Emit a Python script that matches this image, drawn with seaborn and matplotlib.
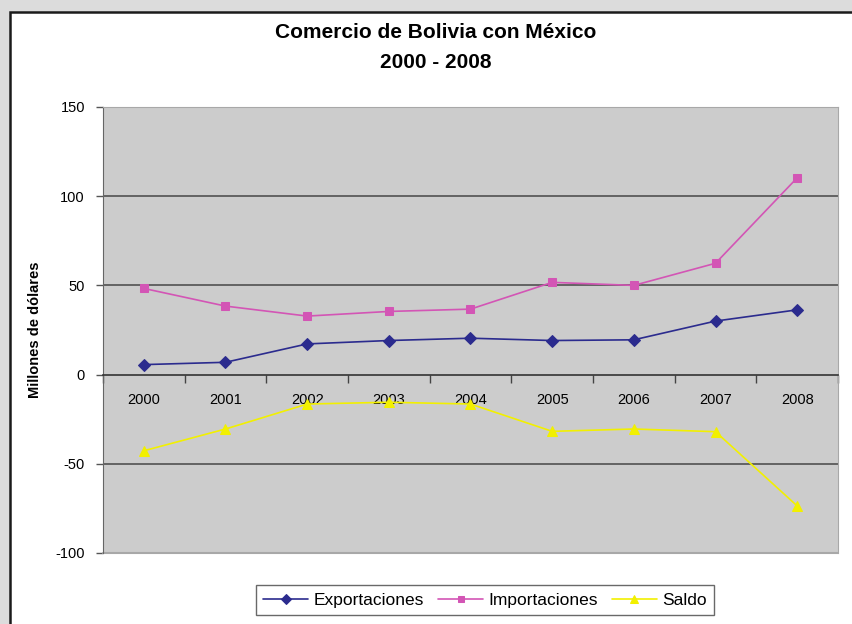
import numpy as np
import pandas as pd
import matplotlib
matplotlib.use("Agg")
import matplotlib.pyplot as plt
from matplotlib.patches import Rectangle
import seaborn as sns

years = ['2000', '2001', '2002', '2003', '2004', '2005', '2006', '2007', '2008']
exportaciones = [5.6, 6.9, 17.2, 19.1, 20.4, 19.1, 19.5, 30.0, 36.3]
importaciones = [48.3, 38.4, 32.8, 35.4, 36.7, 51.7, 50.0, 62.4, 110.3]
saldo = [-42.7, -30.5, -16.5, -15.5, -16.5, -31.8, -30.5, -32.0, -73.6]

series_names = ['Exportaciones', 'Importaciones', 'Saldo']
series_colors = ['#2b2b8e', '#d355b5', '#f2f000']
series_markers = ['D', 's', '^']

sns.set_style("white")
plt.rcParams['font.family'] = ['Liberation Sans', 'DejaVu Sans']
plt.rcParams['text.color'] = 'black'
plt.rcParams['xtick.color'] = 'black'
plt.rcParams['ytick.color'] = 'black'

pos = np.arange(len(years))
df = pd.DataFrame({
    'pos': np.tile(pos, 3),
    'valor': exportaciones + importaciones + saldo,
    'serie': np.repeat(series_names, len(years)),
})

fig = plt.figure(figsize=(8.52, 6.24), dpi=100)
fig.patch.set_facecolor('#dcdcdc')
W, H = 852, 624
# white chart area with dark frame
fig.patches.append(Rectangle((10 / W, -0.01), 1.02, 1 - 12 / H + 0.01, transform=fig.transFigure,
                             facecolor='white', edgecolor='#1a1a1a', linewidth=1.8, zorder=-10))

ax = fig.add_axes([103 / W, 1 - 553 / H, (838 - 103) / W, (553 - 107) / H])
ax.set_facecolor('#cccccc')

for name, col, mk in zip(series_names, series_colors, series_markers):
    sub = df[df.serie == name]
    ms = {'D': 6, 's': 5.5, '^': 6.5}[mk]
    sns.lineplot(data=sub, x='pos', y='valor', ax=ax, color=col, marker=mk, markersize=ms,
                 markeredgecolor=col, linewidth=1.2, label=name, legend=False, zorder=3)

ax.set_xlim(-0.5, 8.5)
ax.set_ylim(-100, 150)
ax.set_xlabel('')
ax.set_ylabel('')

for yv in [-50, 50, 100]:
    ax.axhline(yv, color='#5a5a5a', linewidth=1.3, zorder=1)

ax.set_yticks([-100, -50, 0, 50, 100, 150])
ax.set_yticklabels(['-100', '-50', '0', '50', '100', '150'])
ax.tick_params(axis='y', direction='out', length=5, width=1, color='#555555', labelsize=10.5, pad=8)

ax.spines['bottom'].set_position(('data', 0))
ax.spines['bottom'].set_color('#333333')
ax.spines['bottom'].set_linewidth(1.2)
ax.spines['left'].set_color('#666666')
ax.spines['top'].set_color('#a8a8a8')
ax.spines['right'].set_color('#a8a8a8')
ax.set_xticks(pos)
ax.set_xticklabels(years)
ax.set_xticks(np.arange(-0.5, 9, 1), minor=True)
ax.tick_params(axis='x', which='major', length=0, labelsize=10.5, pad=13)
ax.tick_params(axis='x', which='minor', bottom=True, direction='out', length=6, width=1,
               color='#444444')
ax.tick_params(axis='y', which='both', left=True)

# light bottom border of the plot area
ax.plot([-0.5, 8.5], [-100, -100], color='#a8a8a8', linewidth=1.5, clip_on=False, zorder=2)

fig.text(436 / W, 1 - 32 / H, 'Comercio de Bolivia con México', ha='center', va='center',
         fontsize=15, fontweight='bold')
fig.text(436 / W, 1 - 62 / H, '2000 - 2008', ha='center', va='center',
         fontsize=15, fontweight='bold')
fig.text(35 / W, 1 - 330 / H, 'Millones de dólares', rotation=90, ha='center', va='center',
         fontsize=10.5, fontweight='bold')

handles, labels = ax.get_legend_handles_labels()
leg = fig.legend(handles, labels, loc='center', bbox_to_anchor=(485 / W, 1 - 600 / H), ncol=3,
                 fontsize=12.5, frameon=True, fancybox=False, edgecolor='#444444',
                 handlelength=2.6, handletextpad=0.3, columnspacing=0.8, borderpad=0.4,
                 markerscale=0.9)
leg.get_frame().set_linewidth(1.0)

fig.savefig('out.png', dpi=100, facecolor=fig.get_facecolor())
